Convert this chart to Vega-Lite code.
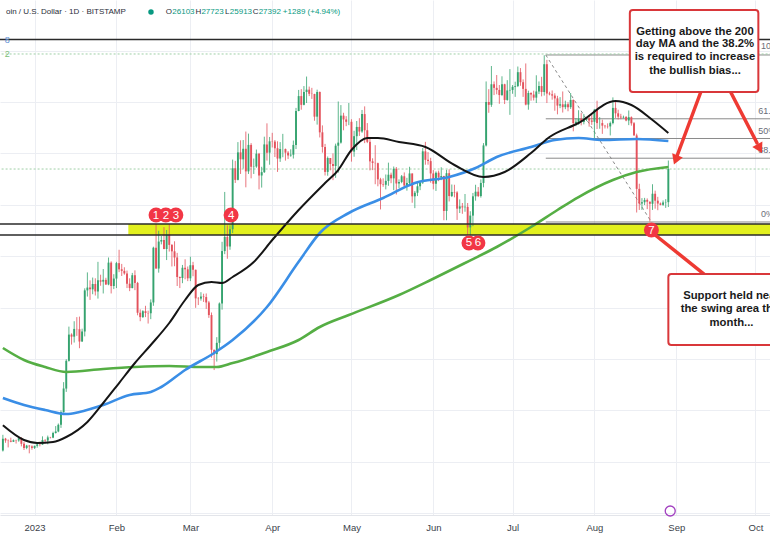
{
"$schema": "https://vega.github.io/schema/vega-lite/v6.json",
"width": 770, "height": 515, "autosize": "none", "padding": {"left":0,"top":0,"right":0,"bottom":25},
"background": "#ffffff",
"config": {"view": {"stroke": null}, "font": "Liberation Sans",
 "axisX": {"grid": true, "gridColor": "#eceef3", "ticks": false, "domainColor": "#e3e5ea", "labelFontSize": 9.5, "labelColor": "#3b3f4a", "labelPadding": 7, "labelFlush": false, "labelOverlap": false},
 "axisY": {"labels": false, "ticks": false, "domain": false, "grid": true, "gridColor": "#eceef3"}},
"datasets": {
"candles": [
{"d":"2022-12-20","o":16440,"h":17050,"l":16400,"c":16900},
{"d":"2022-12-21","o":16900,"h":16930,"l":16740,"c":16830},
{"d":"2022-12-22","o":16830,"h":16870,"l":16560,"c":16820},
{"d":"2022-12-23","o":16820,"h":16940,"l":16760,"c":16780},
{"d":"2022-12-24","o":16780,"h":16870,"l":16770,"c":16840},
{"d":"2022-12-25","o":16840,"h":16860,"l":16710,"c":16830},
{"d":"2022-12-26","o":16830,"h":16940,"l":16780,"c":16920},
{"d":"2022-12-27","o":16920,"h":16960,"l":16600,"c":16700},
{"d":"2022-12-28","o":16700,"h":16780,"l":16460,"c":16540},
{"d":"2022-12-29","o":16540,"h":16660,"l":16490,"c":16630},
{"d":"2022-12-30","o":16630,"h":16650,"l":16330,"c":16600},
{"d":"2022-12-31","o":16600,"h":16640,"l":16470,"c":16540},
{"d":"2023-01-01","o":16540,"h":16630,"l":16500,"c":16620},
{"d":"2023-01-02","o":16620,"h":16760,"l":16550,"c":16680},
{"d":"2023-01-03","o":16680,"h":16780,"l":16600,"c":16670},
{"d":"2023-01-04","o":16670,"h":16990,"l":16660,"c":16850},
{"d":"2023-01-05","o":16850,"h":16880,"l":16750,"c":16830},
{"d":"2023-01-06","o":16830,"h":17020,"l":16680,"c":16950},
{"d":"2023-01-07","o":16950,"h":16970,"l":16910,"c":16940},
{"d":"2023-01-08","o":16940,"h":17170,"l":16920,"c":17120},
{"d":"2023-01-09","o":17120,"h":17390,"l":17100,"c":17180},
{"d":"2023-01-10","o":17180,"h":17490,"l":17150,"c":17440},
{"d":"2023-01-11","o":17440,"h":18000,"l":17320,"c":17940},
{"d":"2023-01-12","o":17940,"h":19100,"l":17910,"c":18850},
{"d":"2023-01-13","o":18850,"h":19990,"l":18720,"c":19930},
{"d":"2023-01-14","o":19930,"h":21260,"l":19900,"c":20950},
{"d":"2023-01-15","o":20950,"h":21000,"l":20560,"c":20870},
{"d":"2023-01-16","o":20870,"h":21470,"l":20640,"c":21170},
{"d":"2023-01-17","o":21170,"h":21630,"l":20900,"c":21160},
{"d":"2023-01-18","o":21160,"h":21650,"l":20420,"c":20680},
{"d":"2023-01-19","o":20680,"h":21180,"l":20670,"c":21070},
{"d":"2023-01-20","o":21070,"h":22750,"l":20880,"c":22670},
{"d":"2023-01-21","o":22670,"h":23370,"l":22430,"c":22780},
{"d":"2023-01-22","o":22780,"h":23060,"l":22300,"c":22710},
{"d":"2023-01-23","o":22710,"h":23170,"l":22520,"c":22920},
{"d":"2023-01-24","o":22920,"h":23140,"l":22470,"c":22630},
{"d":"2023-01-25","o":22630,"h":23780,"l":22350,"c":23060},
{"d":"2023-01-26","o":23060,"h":23280,"l":22850,"c":23010},
{"d":"2023-01-27","o":23010,"h":23500,"l":22550,"c":23080},
{"d":"2023-01-28","o":23080,"h":23160,"l":22880,"c":22900},
{"d":"2023-01-29","o":22900,"h":23950,"l":22870,"c":23750},
{"d":"2023-01-30","o":23750,"h":23800,"l":22550,"c":22840},
{"d":"2023-01-31","o":22840,"h":23300,"l":22720,"c":23130},
{"d":"2023-02-01","o":23130,"h":23780,"l":22760,"c":23730},
{"d":"2023-02-02","o":23730,"h":24250,"l":23380,"c":23490},
{"d":"2023-02-03","o":23490,"h":23700,"l":23230,"c":23430},
{"d":"2023-02-04","o":23430,"h":23570,"l":23280,"c":23330},
{"d":"2023-02-05","o":23330,"h":23440,"l":22760,"c":22930},
{"d":"2023-02-06","o":22930,"h":23140,"l":22640,"c":22760},
{"d":"2023-02-07","o":22760,"h":23350,"l":22750,"c":23260},
{"d":"2023-02-08","o":23260,"h":23450,"l":22680,"c":22960},
{"d":"2023-02-09","o":22960,"h":23000,"l":21700,"c":21800},
{"d":"2023-02-10","o":21800,"h":21930,"l":21470,"c":21630},
{"d":"2023-02-11","o":21630,"h":21900,"l":21600,"c":21860},
{"d":"2023-02-12","o":21860,"h":22070,"l":21630,"c":21790},
{"d":"2023-02-13","o":21790,"h":21880,"l":21380,"c":21780},
{"d":"2023-02-14","o":21780,"h":22320,"l":21550,"c":22200},
{"d":"2023-02-15","o":22200,"h":24370,"l":22070,"c":24330},
{"d":"2023-02-16","o":24330,"h":25250,"l":23510,"c":23520},
{"d":"2023-02-17","o":23520,"h":24990,"l":23360,"c":24570},
{"d":"2023-02-18","o":24570,"h":24790,"l":24460,"c":24630},
{"d":"2023-02-19","o":24630,"h":25130,"l":24270,"c":24280},
{"d":"2023-02-20","o":24280,"h":25020,"l":23850,"c":24840},
{"d":"2023-02-21","o":24840,"h":25250,"l":24180,"c":24440},
{"d":"2023-02-22","o":24440,"h":24470,"l":23600,"c":24190},
{"d":"2023-02-23","o":24190,"h":24580,"l":23610,"c":23950},
{"d":"2023-02-24","o":23950,"h":24130,"l":22840,"c":23190},
{"d":"2023-02-25","o":23190,"h":23210,"l":22760,"c":23150},
{"d":"2023-02-26","o":23150,"h":23660,"l":22950,"c":23550},
{"d":"2023-02-27","o":23550,"h":23880,"l":23100,"c":23490},
{"d":"2023-02-28","o":23490,"h":23600,"l":23030,"c":23140},
{"d":"2023-03-01","o":23140,"h":23980,"l":23030,"c":23650},
{"d":"2023-03-02","o":23650,"h":23780,"l":23220,"c":23470},
{"d":"2023-03-03","o":23470,"h":23480,"l":21990,"c":22360},
{"d":"2023-03-04","o":22360,"h":22410,"l":22100,"c":22350},
{"d":"2023-03-05","o":22350,"h":22600,"l":22270,"c":22430},
{"d":"2023-03-06","o":22430,"h":22540,"l":22220,"c":22410},
{"d":"2023-03-07","o":22410,"h":22550,"l":21950,"c":22200},
{"d":"2023-03-08","o":22200,"h":22260,"l":21600,"c":21710},
{"d":"2023-03-09","o":21710,"h":21810,"l":20050,"c":20360},
{"d":"2023-03-10","o":20360,"h":20360,"l":19570,"c":20190},
{"d":"2023-03-11","o":20190,"h":20850,"l":19900,"c":20630},
{"d":"2023-03-12","o":20630,"h":22200,"l":20410,"c":22160},
{"d":"2023-03-13","o":22160,"h":24560,"l":21920,"c":24200},
{"d":"2023-03-14","o":24200,"h":26500,"l":24080,"c":24750},
{"d":"2023-03-15","o":24750,"h":25200,"l":23900,"c":24380},
{"d":"2023-03-16","o":24380,"h":25200,"l":24250,"c":25050},
{"d":"2023-03-17","o":25050,"h":27760,"l":24900,"c":27420},
{"d":"2023-03-18","o":27420,"h":27710,"l":26850,"c":26970},
{"d":"2023-03-19","o":26970,"h":28440,"l":26950,"c":28040},
{"d":"2023-03-20","o":28040,"h":28510,"l":27200,"c":27770},
{"d":"2023-03-21","o":27770,"h":28520,"l":27410,"c":28180},
{"d":"2023-03-22","o":28180,"h":28850,"l":26680,"c":27300},
{"d":"2023-03-23","o":27300,"h":28770,"l":27200,"c":28330},
{"d":"2023-03-24","o":28330,"h":28400,"l":27030,"c":27480},
{"d":"2023-03-25","o":27480,"h":27800,"l":27200,"c":27490},
{"d":"2023-03-26","o":27490,"h":28150,"l":27440,"c":27990},
{"d":"2023-03-27","o":27990,"h":28020,"l":26600,"c":27140},
{"d":"2023-03-28","o":27140,"h":27480,"l":26670,"c":27270},
{"d":"2023-03-29","o":27270,"h":28650,"l":27240,"c":28350},
{"d":"2023-03-30","o":28350,"h":29170,"l":27720,"c":28030},
{"d":"2023-03-31","o":28030,"h":28640,"l":27560,"c":28470},
{"d":"2023-04-01","o":28470,"h":28800,"l":28230,"c":28460},
{"d":"2023-04-02","o":28460,"h":28520,"l":27860,"c":28200},
{"d":"2023-04-03","o":28200,"h":28470,"l":27280,"c":27800},
{"d":"2023-04-04","o":27800,"h":28440,"l":27670,"c":28170},
{"d":"2023-04-05","o":28170,"h":28760,"l":27850,"c":28170},
{"d":"2023-04-06","o":28170,"h":28190,"l":27720,"c":28030},
{"d":"2023-04-07","o":28030,"h":28090,"l":27780,"c":27920},
{"d":"2023-04-08","o":27920,"h":28160,"l":27870,"c":27950},
{"d":"2023-04-09","o":27950,"h":28500,"l":27800,"c":28330},
{"d":"2023-04-10","o":28330,"h":29770,"l":28170,"c":29650},
{"d":"2023-04-11","o":29650,"h":30470,"l":29640,"c":30230},
{"d":"2023-04-12","o":30230,"h":30500,"l":29700,"c":29890},
{"d":"2023-04-13","o":29890,"h":30620,"l":29870,"c":30390},
{"d":"2023-04-14","o":30390,"h":30990,"l":29960,"c":30480},
{"d":"2023-04-15","o":30480,"h":30600,"l":30230,"c":30320},
{"d":"2023-04-16","o":30320,"h":30550,"l":30120,"c":30310},
{"d":"2023-04-17","o":30310,"h":30320,"l":29270,"c":29430},
{"d":"2023-04-18","o":29430,"h":30480,"l":29120,"c":30390},
{"d":"2023-04-19","o":30390,"h":30410,"l":28620,"c":28820},
{"d":"2023-04-20","o":28820,"h":29090,"l":28030,"c":28250},
{"d":"2023-04-21","o":28250,"h":28370,"l":27140,"c":27280},
{"d":"2023-04-22","o":27280,"h":27880,"l":27130,"c":27820},
{"d":"2023-04-23","o":27820,"h":27820,"l":27340,"c":27590},
{"d":"2023-04-24","o":27590,"h":28000,"l":26960,"c":27510},
{"d":"2023-04-25","o":27510,"h":28380,"l":27050,"c":28300},
{"d":"2023-04-26","o":28300,"h":30020,"l":27250,"c":28420},
{"d":"2023-04-27","o":28420,"h":29880,"l":28380,"c":29470},
{"d":"2023-04-28","o":29470,"h":29580,"l":28900,"c":29320},
{"d":"2023-04-29","o":29320,"h":29450,"l":29060,"c":29230},
{"d":"2023-04-30","o":29230,"h":29960,"l":29100,"c":29230},
{"d":"2023-05-01","o":29230,"h":29330,"l":27680,"c":28070},
{"d":"2023-05-02","o":28070,"h":28880,"l":27870,"c":28670},
{"d":"2023-05-03","o":28670,"h":29260,"l":28130,"c":29030},
{"d":"2023-05-04","o":29030,"h":29370,"l":28680,"c":28850},
{"d":"2023-05-05","o":28850,"h":29690,"l":28800,"c":29530},
{"d":"2023-05-06","o":29530,"h":29830,"l":28400,"c":28900},
{"d":"2023-05-07","o":28900,"h":29180,"l":28400,"c":28450},
{"d":"2023-05-08","o":28450,"h":28640,"l":27340,"c":27690},
{"d":"2023-05-09","o":27690,"h":27810,"l":27350,"c":27630},
{"d":"2023-05-10","o":27630,"h":28320,"l":26800,"c":27620},
{"d":"2023-05-11","o":27620,"h":27640,"l":26720,"c":26990},
{"d":"2023-05-12","o":26990,"h":27050,"l":25820,"c":26800},
{"d":"2023-05-13","o":26800,"h":27030,"l":26700,"c":26780},
{"d":"2023-05-14","o":26780,"h":27180,"l":26600,"c":26930},
{"d":"2023-05-15","o":26930,"h":27640,"l":26740,"c":27170},
{"d":"2023-05-16","o":27170,"h":27250,"l":26840,"c":27030},
{"d":"2023-05-17","o":27030,"h":27490,"l":26570,"c":27400},
{"d":"2023-05-18","o":27400,"h":27470,"l":26400,"c":26830},
{"d":"2023-05-19","o":26830,"h":26990,"l":26650,"c":26890},
{"d":"2023-05-20","o":26890,"h":27160,"l":26840,"c":27110},
{"d":"2023-05-21","o":27110,"h":27260,"l":26690,"c":26750},
{"d":"2023-05-22","o":26750,"h":27050,"l":26550,"c":26850},
{"d":"2023-05-23","o":26850,"h":27480,"l":26800,"c":27220},
{"d":"2023-05-24","o":27220,"h":27220,"l":26080,"c":26330},
{"d":"2023-05-25","o":26330,"h":26540,"l":25870,"c":26470},
{"d":"2023-05-26","o":26470,"h":26900,"l":26340,"c":26720},
{"d":"2023-05-27","o":26720,"h":26930,"l":26570,"c":26870},
{"d":"2023-05-28","o":26870,"h":28210,"l":26810,"c":28080},
{"d":"2023-05-29","o":28080,"h":28450,"l":27560,"c":27750},
{"d":"2023-05-30","o":27750,"h":28050,"l":27560,"c":27700},
{"d":"2023-05-31","o":27700,"h":27830,"l":26860,"c":27220},
{"d":"2023-06-01","o":27220,"h":27350,"l":26600,"c":26820},
{"d":"2023-06-02","o":26820,"h":27300,"l":26540,"c":27250},
{"d":"2023-06-03","o":27250,"h":27330,"l":26920,"c":27070},
{"d":"2023-06-04","o":27070,"h":27460,"l":26960,"c":27120},
{"d":"2023-06-05","o":27120,"h":27130,"l":25400,"c":25760},
{"d":"2023-06-06","o":25760,"h":27360,"l":25400,"c":27230},
{"d":"2023-06-07","o":27230,"h":27380,"l":26130,"c":26340},
{"d":"2023-06-08","o":26340,"h":26790,"l":26300,"c":26500},
{"d":"2023-06-09","o":26500,"h":26780,"l":26290,"c":26480},
{"d":"2023-06-10","o":26480,"h":26530,"l":25410,"c":25850},
{"d":"2023-06-11","o":25850,"h":26210,"l":25680,"c":25940},
{"d":"2023-06-12","o":25940,"h":26070,"l":25650,"c":25900},
{"d":"2023-06-13","o":25900,"h":26420,"l":25730,"c":25920},
{"d":"2023-06-14","o":25920,"h":26070,"l":24840,"c":25120},
{"d":"2023-06-15","o":25120,"h":25750,"l":24800,"c":25580},
{"d":"2023-06-16","o":25580,"h":26460,"l":25170,"c":26330},
{"d":"2023-06-17","o":26330,"h":26780,"l":26160,"c":26510},
{"d":"2023-06-18","o":26510,"h":26690,"l":26300,"c":26340},
{"d":"2023-06-19","o":26340,"h":26990,"l":26280,"c":26850},
{"d":"2023-06-20","o":26850,"h":28400,"l":26680,"c":28310},
{"d":"2023-06-21","o":28310,"h":30800,"l":28270,"c":30000},
{"d":"2023-06-22","o":30000,"h":30500,"l":29580,"c":29890},
{"d":"2023-06-23","o":29890,"h":31400,"l":29810,"c":30690},
{"d":"2023-06-24","o":30690,"h":30800,"l":30270,"c":30550},
{"d":"2023-06-25","o":30550,"h":31050,"l":30300,"c":30470},
{"d":"2023-06-26","o":30470,"h":30660,"l":29930,"c":30270},
{"d":"2023-06-27","o":30270,"h":31000,"l":30230,"c":30690},
{"d":"2023-06-28","o":30690,"h":30710,"l":29920,"c":30080},
{"d":"2023-06-29","o":30080,"h":30850,"l":30050,"c":30450},
{"d":"2023-06-30","o":30450,"h":31280,"l":29500,"c":30470},
{"d":"2023-07-01","o":30470,"h":30660,"l":30320,"c":30590},
{"d":"2023-07-02","o":30590,"h":30790,"l":30200,"c":30620},
{"d":"2023-07-03","o":30620,"h":31380,"l":30580,"c":31160},
{"d":"2023-07-04","o":31160,"h":31320,"l":30630,"c":30770},
{"d":"2023-07-05","o":30770,"h":30880,"l":30200,"c":30510},
{"d":"2023-07-06","o":30510,"h":31500,"l":29870,"c":29900},
{"d":"2023-07-07","o":29900,"h":30440,"l":29700,"c":30350},
{"d":"2023-07-08","o":30350,"h":30380,"l":30050,"c":30290},
{"d":"2023-07-09","o":30290,"h":30440,"l":30060,"c":30170},
{"d":"2023-07-10","o":30170,"h":31040,"l":29960,"c":30410},
{"d":"2023-07-11","o":30410,"h":30800,"l":30310,"c":30620},
{"d":"2023-07-12","o":30620,"h":30980,"l":30220,"c":30390},
{"d":"2023-07-13","o":30390,"h":31818,"l":30250,"c":31470},
{"d":"2023-07-14","o":31470,"h":31640,"l":29960,"c":30330},
{"d":"2023-07-15","o":30330,"h":30400,"l":30260,"c":30300},
{"d":"2023-07-16","o":30300,"h":30450,"l":30090,"c":30250},
{"d":"2023-07-17","o":30250,"h":30340,"l":29660,"c":30140},
{"d":"2023-07-18","o":30140,"h":30240,"l":29520,"c":29860},
{"d":"2023-07-19","o":29860,"h":30190,"l":29760,"c":29910},
{"d":"2023-07-20","o":29910,"h":30410,"l":29590,"c":29800},
{"d":"2023-07-21","o":29800,"h":30050,"l":29720,"c":29910},
{"d":"2023-07-22","o":29910,"h":29990,"l":29640,"c":29800},
{"d":"2023-07-23","o":29800,"h":30350,"l":29730,"c":30080},
{"d":"2023-07-24","o":30080,"h":30100,"l":28860,"c":29180},
{"d":"2023-07-25","o":29180,"h":29370,"l":29060,"c":29230},
{"d":"2023-07-26","o":29230,"h":29680,"l":29120,"c":29350},
{"d":"2023-07-27","o":29350,"h":29570,"l":29090,"c":29220},
{"d":"2023-07-28","o":29220,"h":29530,"l":29130,"c":29320},
{"d":"2023-07-29","o":29320,"h":29410,"l":29260,"c":29360},
{"d":"2023-07-30","o":29360,"h":29450,"l":29040,"c":29280},
{"d":"2023-07-31","o":29280,"h":29520,"l":29110,"c":29230},
{"d":"2023-08-01","o":29230,"h":29730,"l":28600,"c":29700},
{"d":"2023-08-02","o":29700,"h":30050,"l":28950,"c":29180},
{"d":"2023-08-03","o":29180,"h":29410,"l":28960,"c":29180},
{"d":"2023-08-04","o":29180,"h":29310,"l":28760,"c":29080},
{"d":"2023-08-05","o":29080,"h":29110,"l":28970,"c":29060},
{"d":"2023-08-06","o":29060,"h":29170,"l":28970,"c":29050},
{"d":"2023-08-07","o":29050,"h":29240,"l":28700,"c":29180},
{"d":"2023-08-08","o":29180,"h":30180,"l":29130,"c":29770},
{"d":"2023-08-09","o":29770,"h":30050,"l":29380,"c":29560},
{"d":"2023-08-10","o":29560,"h":29700,"l":29320,"c":29430},
{"d":"2023-08-11","o":29430,"h":29540,"l":29330,"c":29400},
{"d":"2023-08-12","o":29400,"h":29470,"l":29360,"c":29420},
{"d":"2023-08-13","o":29420,"h":29450,"l":29250,"c":29280},
{"d":"2023-08-14","o":29280,"h":29670,"l":29100,"c":29410},
{"d":"2023-08-15","o":29410,"h":29440,"l":29080,"c":29170},
{"d":"2023-08-16","o":29170,"h":29220,"l":28700,"c":28700},
{"d":"2023-08-17","o":28700,"h":28770,"l":25700,"c":26620},
{"d":"2023-08-18","o":26620,"h":26820,"l":25800,"c":26050},
{"d":"2023-08-19","o":26050,"h":26260,"l":25800,"c":26100},
{"d":"2023-08-20","o":26100,"h":26270,"l":25990,"c":26190},
{"d":"2023-08-21","o":26190,"h":26250,"l":25830,"c":26120},
{"d":"2023-08-22","o":26120,"h":26130,"l":25350,"c":26040},
{"d":"2023-08-23","o":26040,"h":26800,"l":25800,"c":26430},
{"d":"2023-08-24","o":26430,"h":26550,"l":25850,"c":26160},
{"d":"2023-08-25","o":26160,"h":26310,"l":25790,"c":26050},
{"d":"2023-08-26","o":26050,"h":26090,"l":25980,"c":26000},
{"d":"2023-08-27","o":26000,"h":26170,"l":25960,"c":26090},
{"d":"2023-08-28","o":26090,"h":26220,"l":25880,"c":26100},
{"d":"2023-08-29","o":26103,"h":27723,"l":25913,"c":27392}
],
"ma": [
{"m":"50","d":"2022-12-20","v":17420},{"m":"50","d":"2022-12-28","v":16848},{"m":"50","d":"2023-01-02","v":16732},{"m":"50","d":"2023-01-08","v":16771},{"m":"50","d":"2023-01-13","v":16965},{"m":"50","d":"2023-01-21","v":17549},{"m":"50","d":"2023-01-27","v":18288},{"m":"50","d":"2023-02-02","v":19066},{"m":"50","d":"2023-02-08","v":19844},{"m":"50","d":"2023-02-14","v":20545},{"m":"50","d":"2023-02-21","v":21401},{"m":"50","d":"2023-02-27","v":22296},{"m":"50","d":"2023-03-04","v":22879},{"m":"50","d":"2023-03-09","v":22996},{"m":"50","d":"2023-03-13","v":22957},{"m":"50","d":"2023-03-17","v":23191},{"m":"50","d":"2023-03-25","v":23774},{"m":"50","d":"2023-04-01","v":24630},{"m":"50","d":"2023-04-11","v":25798},{"m":"50","d":"2023-04-21","v":26848},{"m":"50","d":"2023-04-26","v":27354},{"m":"50","d":"2023-05-01","v":28132},{"m":"50","d":"2023-05-07","v":28599},{"m":"50","d":"2023-05-11","v":28599},{"m":"50","d":"2023-05-19","v":28444},{"m":"50","d":"2023-05-29","v":28249},{"m":"50","d":"2023-06-09","v":27549},{"m":"50","d":"2023-06-20","v":27082},{"m":"50","d":"2023-06-28","v":27276},{"m":"50","d":"2023-07-08","v":28016},{"m":"50","d":"2023-07-15","v":28638},{"m":"50","d":"2023-07-26","v":29183},{"m":"50","d":"2023-08-09","v":30039},{"m":"50","d":"2023-08-15","v":29883},{"m":"50","d":"2023-08-23","v":29300},{"m":"50","d":"2023-08-29","v":28794},
{"m":"100","d":"2022-12-20","v":18483},{"m":"100","d":"2022-12-28","v":18210},{"m":"100","d":"2023-01-05","v":18016},{"m":"100","d":"2023-01-13","v":17860},{"m":"100","d":"2023-01-18","v":17938},{"m":"100","d":"2023-01-27","v":18210},{"m":"100","d":"2023-02-06","v":18599},{"m":"100","d":"2023-02-14","v":18716},{"m":"100","d":"2023-02-18","v":18911},{"m":"100","d":"2023-02-27","v":19572},{"m":"100","d":"2023-03-10","v":20234},{"m":"100","d":"2023-03-17","v":20739},{"m":"100","d":"2023-03-30","v":22023},{"m":"100","d":"2023-04-11","v":23780},{"m":"100","d":"2023-04-19","v":24903},{"m":"100","d":"2023-04-30","v":25681},{"m":"100","d":"2023-05-13","v":26265},{"m":"100","d":"2023-05-25","v":26848},{"m":"100","d":"2023-06-07","v":27082},{"m":"100","d":"2023-06-17","v":27432},{"m":"100","d":"2023-06-25","v":27860},{"m":"100","d":"2023-07-08","v":28249},{"m":"100","d":"2023-07-17","v":28521},{"m":"100","d":"2023-07-26","v":28599},{"m":"100","d":"2023-08-04","v":28521},{"m":"100","d":"2023-08-17","v":28560},{"m":"100","d":"2023-08-29","v":28482},
{"m":"200","d":"2022-12-20","v":20428},{"m":"200","d":"2022-12-28","v":19961},{"m":"200","d":"2023-01-05","v":19689},{"m":"200","d":"2023-01-13","v":19494},{"m":"200","d":"2023-01-27","v":19611},{"m":"200","d":"2023-02-08","v":19689},{"m":"200","d":"2023-02-21","v":19728},{"m":"200","d":"2023-03-05","v":19689},{"m":"200","d":"2023-03-11","v":19689},{"m":"200","d":"2023-03-17","v":19844},{"m":"200","d":"2023-03-30","v":20272},{"m":"200","d":"2023-04-11","v":20739},{"m":"200","d":"2023-04-19","v":21245},{"m":"200","d":"2023-04-30","v":21712},{"m":"200","d":"2023-05-19","v":22490},{"m":"200","d":"2023-05-31","v":23074},{"m":"200","d":"2023-06-13","v":23735},{"m":"200","d":"2023-06-25","v":24358},{"m":"200","d":"2023-07-08","v":25136},{"m":"200","d":"2023-07-18","v":25798},{"m":"200","d":"2023-07-26","v":26303},{"m":"200","d":"2023-08-08","v":26965},{"m":"200","d":"2023-08-17","v":27276},{"m":"200","d":"2023-08-29","v":27471}
],
"hlines": [
{"d":"2022-12-18","d2":"2023-10-10","p":31868,"k":"dot"},{"d":"2022-12-18","d2":"2023-10-10","p":27392,"k":"dot"},
{"d":"2022-12-18","d2":"2023-10-10","p":32431,"k":"solid"},{"d":"2022-12-18","d2":"2023-10-10","p":25253,"k":"solid"},{"d":"2022-12-18","d2":"2023-10-10","p":24825,"k":"solid"}
]
},
"layer": [
{"data":{"name":"candles"},
 "mark":{"type":"rule","strokeWidth":0.8,"opacity":0},
 "encoding":{"x":{"field":"d","type":"temporal","scale":{"type":"utc","domain":[1671563520000,1696429440000]},
   "axis":{"title":null,"values":[1672531200000,1675209600000,1677628800000,1680307200000,1682899200000,1685577600000,1688169600000,1690848000000,1693526400000,1696118400000],
    "labelExpr":"utcmonth(datum.value) == 0 ? utcFormat(datum.value, '%Y') : utcFormat(datum.value, '%b')"}},
  "y":{"field":"l","type":"quantitative","scale":{"domain":[13930,33969],"zero":false,"nice":false},
   "axis":{"title":null,"values":[14000,15000,16000,17000,18000,19000,20000,21000,22000,23000,24000,25000,26000,27000,28000,29000,30000,31000,32000,33000]}},
  "y2":{"field":"h"}}},
{"data":{"values":[{"d":"2023-02-05T12:00:00Z","d2":"2023-10-10T00:00:00Z","p":24825,"p2":25253}]},
 "mark":{"type":"rect","color":"#e2f01e"},
 "encoding":{"x":{"field":"d","type":"temporal","axis":{"title":null}},"x2":{"field":"d2"},
  "y":{"field":"p","type":"quantitative","axis":{"title":null}},"y2":{"field":"p2"}}},
{"data":{"values":[{"d":"2023-07-13T14:00:00Z","d2":"2023-10-10T00:00:00Z","p":31830},{"d":"2023-07-13T14:00:00Z","d2":"2023-10-10T00:00:00Z","p":29347},{"d":"2023-07-13T14:00:00Z","d2":"2023-10-10T00:00:00Z","p":28580},{"d":"2023-07-13T14:00:00Z","d2":"2023-10-10T00:00:00Z","p":27813},{"d":"2023-07-13T14:00:00Z","d2":"2023-10-10T00:00:00Z","p":25331}]},
 "mark":{"type":"rule","color":"#8a8a8a","strokeWidth":1},
 "encoding":{"x":{"field":"d","type":"temporal","axis":{"title":null}},"x2":{"field":"d2"},
  "y":{"field":"p","type":"quantitative","axis":{"title":null}}}},
{"data":{"values":[{"d":"2023-07-13T14:00:00Z","d2":"2023-08-22T14:00:00Z","p":31830,"p2":25331}]},
 "mark":{"type":"rule","color":"#888888","strokeWidth":1,"strokeDash":[3,3]},
 "encoding":{"x":{"field":"d","type":"temporal","axis":{"title":null}},"x2":{"field":"d2"},
  "y":{"field":"p","type":"quantitative","axis":{"title":null}},"y2":{"field":"p2"}}},
{"data":{"name":"hlines"},"transform":[{"filter":"datum.k == 'dot'"}],
 "mark":{"type":"rule","color":"#9fcfa6","strokeWidth":1,"strokeDash":[2,2]},
 "encoding":{"x":{"field":"d","type":"temporal","axis":{"title":null}},"x2":{"field":"d2"},
  "y":{"field":"p","type":"quantitative","axis":{"title":null}}}},
{"data":{"name":"candles"},
 "mark":{"type":"rule","strokeWidth":0.8},
 "encoding":{"x":{"field":"d","type":"temporal","axis":{"title":null}},
  "y":{"field":"l","type":"quantitative","axis":{"title":null}},
  "y2":{"field":"h"},
  "color":{"condition":{"test":"datum.c >= datum.o","value":"#35a36f"},"value":"#e3525c"}}},
{"data":{"name":"candles"},
 "mark":{"type":"bar","size":1.9},
 "encoding":{"x":{"field":"d","type":"temporal","axis":{"title":null}},
  "y":{"field":"o","type":"quantitative","axis":{"title":null}},
  "y2":{"field":"c"},
  "color":{"condition":{"test":"datum.c >= datum.o","value":"#35a36f"},"value":"#e3525c"}}},
{"data":{"name":"ma"},"transform":[{"filter":"datum.m == '200'"}],
 "mark":{"type":"line","color":"#55ae44","strokeWidth":2.6,"interpolate":"monotone"},
 "encoding":{"x":{"field":"d","type":"temporal","axis":{"title":null}},
  "y":{"field":"v","type":"quantitative","axis":{"title":null}}}},
{"data":{"name":"ma"},"transform":[{"filter":"datum.m == '100'"}],
 "mark":{"type":"line","color":"#3a8ee6","strokeWidth":2.6,"interpolate":"monotone"},
 "encoding":{"x":{"field":"d","type":"temporal","axis":{"title":null}},
  "y":{"field":"v","type":"quantitative","axis":{"title":null}}}},
{"data":{"name":"ma"},"transform":[{"filter":"datum.m == '50'"}],
 "mark":{"type":"line","color":"#151515","strokeWidth":2,"interpolate":"monotone"},
 "encoding":{"x":{"field":"d","type":"temporal","axis":{"title":null}},
  "y":{"field":"v","type":"quantitative","axis":{"title":null}}}},
{"data":{"name":"hlines"},"transform":[{"filter":"datum.k == 'solid'"}],
 "mark":{"type":"rule","color":"#2a2a2a","strokeWidth":1.6},
 "encoding":{"x":{"field":"d","type":"temporal","axis":{"title":null}},"x2":{"field":"d2"},
  "y":{"field":"p","type":"quantitative","axis":{"title":null}}}},
{"data":{"values":[{"d":"2023-10-02T00:00:00Z","p":29650,"t":"61.8%(29347)"},{"d":"2023-10-02T00:00:00Z","p":28872,"t":"50%(28580)"},{"d":"2023-10-02T00:00:00Z","p":28132,"t":"38.2%(27813)"},{"d":"2023-10-03T02:00:00Z","p":25642,"t":"0%(25331)"},{"d":"2023-10-03T02:00:00Z","p":32180,"t":"100%(31830)"}]},
 "mark":{"type":"text","align":"left","baseline":"middle","fontSize":9,"color":"#6a6d78"},
 "encoding":{"x":{"field":"d","type":"temporal","axis":{"title":null}},
  "y":{"field":"p","type":"quantitative","axis":{"title":null}},
  "text":{"field":"t"}}},
{"data":{"values":[{"d":"2023-09-10T07:00:00Z","d2":"2023-09-01T00:00:00Z","p":30389,"p2":27821},{"d":"2023-09-21T14:00:00Z","d2":"2023-10-01T14:00:00Z","p":30389,"p2":28405},{"d":"2023-08-22T14:00:00Z","d2":"2023-09-11T12:00:00Z","p":24942,"p2":23307}]},
 "mark":{"type":"rule","color":"#ee3a33","strokeWidth":3.5,"strokeCap":"round"},
 "encoding":{"x":{"field":"d","type":"temporal","axis":{"title":null}},"x2":{"field":"d2"},
  "y":{"field":"p","type":"quantitative","axis":{"title":null}},"y2":{"field":"p2"}}},
{"data":{"values":[{"d":"2023-08-31T19:00:00Z","p":27743}]},
 "mark":{"type":"point","shape":"triangle-up","filled":true,"color":"#ee3a33","opacity":1,"size":130,"angle":201},
 "encoding":{"x":{"field":"d","type":"temporal","axis":{"title":null}},
  "y":{"field":"p","type":"quantitative","axis":{"title":null}}}},
{"data":{"values":[{"d":"2023-10-02T14:00:00Z","p":28187}]},
 "mark":{"type":"point","shape":"triangle-up","filled":true,"color":"#ee3a33","opacity":1,"size":130,"angle":152},
 "encoding":{"x":{"field":"d","type":"temporal","axis":{"title":null}},
  "y":{"field":"p","type":"quantitative","axis":{"title":null}}}},
{"data":{"values":[{"d":"2023-08-14T10:00:00Z","d2":"2023-10-02T02:00:00Z","p":30389,"p2":33580},{"d":"2023-08-29T00:00:00Z","d2":"2023-10-12T00:00:00Z","p":20545,"p2":23307}]},
 "mark":{"type":"rect","fill":"#ffffff","stroke":"#d9373a","strokeWidth":2,"cornerRadius":3},
 "encoding":{"x":{"field":"d","type":"temporal","axis":{"title":null}},"x2":{"field":"d2"},
  "y":{"field":"p","type":"quantitative","axis":{"title":null}},"y2":{"field":"p2"}}},
{"data":{"values":[{"d":"2023-09-08T02:00:00Z","p":32724,"t":"Getting above the 200"},{"d":"2023-09-08T02:00:00Z","p":32257,"t":"day MA and the 38.2%"},{"d":"2023-09-08T02:00:00Z","p":31751,"t":"is required to increase"},{"d":"2023-09-08T02:00:00Z","p":31206,"t":"the bullish bias..."},{"d":"2023-09-21T22:00:00Z","p":22451,"t":"Support held near"},{"d":"2023-09-21T22:00:00Z","p":21946,"t":"the swing area this"},{"d":"2023-09-21T22:00:00Z","p":21401,"t":"month..."}]},
 "mark":{"type":"text","align":"center","baseline":"middle","fontSize":11.3,"fontWeight":"bold","color":"#1a1a1a"},
 "encoding":{"x":{"field":"d","type":"temporal","axis":{"title":null}},
  "y":{"field":"p","type":"quantitative","axis":{"title":null}},
  "text":{"field":"t"}}},
{"data":{"values":[{"d":"2023-02-16T00:00:00Z","p":25603,"t":"1"},{"d":"2023-02-19T17:00:00Z","p":25603,"t":"2"},{"d":"2023-02-23T12:00:00Z","p":25603,"t":"3"},{"d":"2023-03-16T10:00:00Z","p":25603,"t":"4"},{"d":"2023-06-14T12:00:00Z","p":24514,"t":"5"},{"d":"2023-06-17T21:00:00Z","p":24514,"t":"6"},{"d":"2023-08-22T14:00:00Z","p":25019,"t":"7"}]},
 "mark":{"type":"point","shape":"circle","filled":true,"color":"#f23645","opacity":1,"size":225},
 "encoding":{"x":{"field":"d","type":"temporal","axis":{"title":null}},
  "y":{"field":"p","type":"quantitative","axis":{"title":null}}}},
{"data":{"values":[{"d":"2023-02-16T00:00:00Z","p":25603,"t":"1"},{"d":"2023-02-19T17:00:00Z","p":25603,"t":"2"},{"d":"2023-02-23T12:00:00Z","p":25603,"t":"3"},{"d":"2023-03-16T10:00:00Z","p":25603,"t":"4"},{"d":"2023-06-14T12:00:00Z","p":24514,"t":"5"},{"d":"2023-06-17T21:00:00Z","p":24514,"t":"6"},{"d":"2023-08-22T14:00:00Z","p":25019,"t":"7"}]},
 "mark":{"type":"text","align":"center","baseline":"middle","fontSize":11.5,"color":"#ffffff","dy":0.5},
 "encoding":{"x":{"field":"d","type":"temporal","axis":{"title":null}},
  "y":{"field":"p","type":"quantitative","axis":{"title":null}},
  "text":{"field":"t"}}},
{"data":{"values":[{"d":"2022-12-21T04:00:00Z","p":33502,"t":"oin / U.S. Dollar · 1D · BITSTAMP","k":"t"},{"d":"2023-02-19T17:00:00Z","p":33502,"t":"O","k":"t"},{"d":"2023-02-22T03:36:00Z","p":33502,"t":"26103","k":"v"},{"d":"2023-03-02T22:20:00Z","p":33502,"t":"H","k":"t"},{"d":"2023-03-05T04:20:00Z","p":33502,"t":"27723","k":"v"},{"d":"2023-03-14T03:36:00Z","p":33502,"t":"L","k":"t"},{"d":"2023-03-15T22:30:00Z","p":33502,"t":"25913","k":"v"},{"d":"2023-03-24T15:00:00Z","p":33502,"t":"C","k":"t"},{"d":"2023-03-26T20:40:00Z","p":33502,"t":"27392","k":"v"},{"d":"2023-04-05T00:30:00Z","p":33502,"t":"+1289 (+4.94%)","k":"v"}]},
 "mark":{"type":"text","align":"left","baseline":"middle","fontSize":8},
 "encoding":{"x":{"field":"d","type":"temporal","axis":{"title":null}},
  "y":{"field":"p","type":"quantitative","axis":{"title":null}},
  "text":{"field":"t"},
  "color":{"field":"k","type":"nominal","scale":{"domain":["t","v"],"range":["#2a2e39","#089981"]},"legend":null}}},
{"data":{"values":[{"d":"2023-02-14T02:00:00Z","p":33502}]},
 "mark":{"type":"point","shape":"circle","filled":true,"color":"#089981","opacity":1,"size":30},
 "encoding":{"x":{"field":"d","type":"temporal","axis":{"title":null}},
  "y":{"field":"p","type":"quantitative","axis":{"title":null}}}},
{"data":{"values":[{"d":"2022-12-22T15:00:00Z","p":32412,"t":"8","k":"b"},{"d":"2022-12-22T15:00:00Z","p":31868,"t":"2","k":"g"}]},
 "mark":{"type":"text","align":"right","baseline":"middle","fontSize":9},
 "encoding":{"x":{"field":"d","type":"temporal","axis":{"title":null}},
  "y":{"field":"p","type":"quantitative","axis":{"title":null}},
  "text":{"field":"t"},
  "color":{"field":"k","type":"nominal","scale":{"domain":["b","g"],"range":["#5b8fd6","#7cc07a"]},"legend":null}}},
{"data":{"values":[{"d":"2023-08-29T17:00:00Z","p":14085}]},
 "mark":{"type":"point","shape":"circle","filled":false,"color":"#a23fc0","strokeWidth":1.3,"opacity":1,"size":100},
 "encoding":{"x":{"field":"d","type":"temporal","axis":{"title":null}},
  "y":{"field":"p","type":"quantitative","axis":{"title":null}}}}
],
"resolve": {"scale": {"color": "independent"}}
}
